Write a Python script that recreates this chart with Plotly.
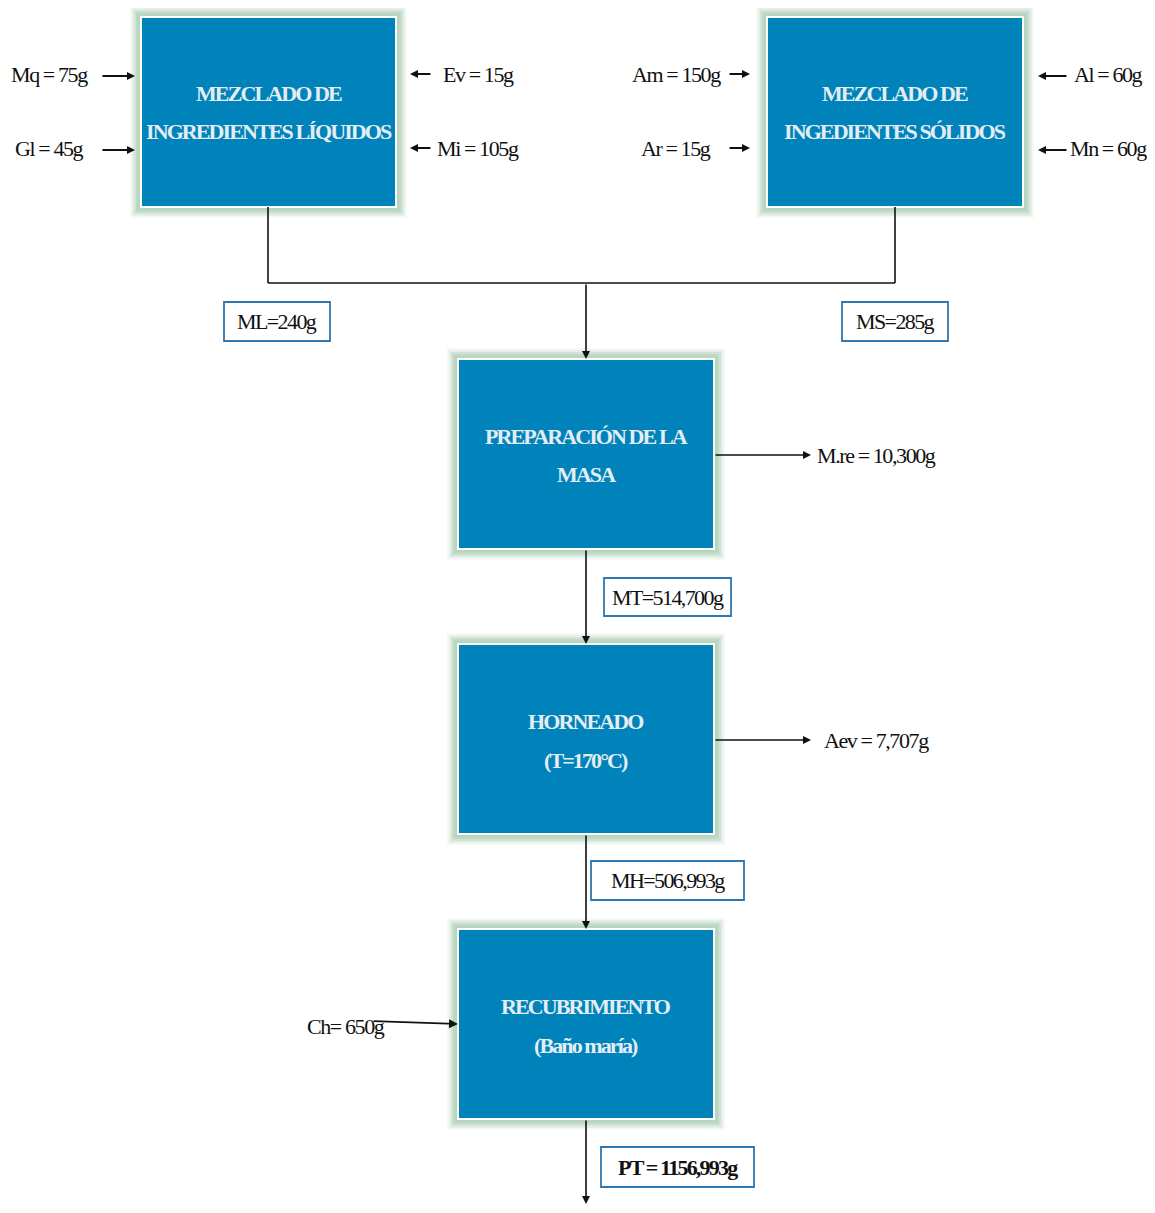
import plotly.graph_objects as go

# ---- data (text content) ----
process_lines = [
    ["MEZCLADO DE", "INGREDIENTES LÍQUIDOS"],
    ["MEZCLADO DE", "INGEDIENTES SÓLIDOS"],
    ["PREPARACIÓN DE LA", "MASA"],
    ["HORNEADO", "(T=170°C)"],
    ["RECUBRIMIENTO", "(Baño maría)"],
]
inputs_left_box1 = ["Mq = 75g", "Gl = 45g"]
inputs_right_box1 = ["Ev = 15g", "Mi = 105g"]
inputs_left_box2 = ["Am = 150g", "Ar = 15g"]
inputs_right_box2 = ["Al = 60g", "Mn = 60g"]
stream_labels = ["ML=240g", "MS=285g", "MT=514,700g", "MH=506,993g", "PT = 1156,993g"]
outputs = ["M.re = 10,300g", "Aev = 7,707g"]
coating_input = ["Ch= 650g"]

# ---- layout geometry (page pixel space; page body has 8px margin) ----
OFF = 8
W, H = 1155 - 2 * OFF, 1213 - 2 * OFF
boxes = [(141, 17, 396, 207), (767, 17, 1023, 207), (458, 359, 714, 549),
         (458, 644, 714, 834), (458, 929, 714, 1119)]
line_y = [(93, 131), (93, 131), (436, 474), (721, 760), (1006, 1045)]

BLUE = "#0083BA"
GLOW = "#b7d4bf"
TXT = "#e4edf3"
FONT = "Liberation Serif"
LBL_BORDER = "#2f77b0"

fig = go.Figure()
shapes = []
ann = []

def line(x0, y0, x1, y1, w=1.6, c="#111"):
    shapes.append(dict(type="line", x0=x0, y0=y0, x1=x1, y1=y1, xref="x", yref="y",
                       line=dict(color=c, width=w)))

def arrow(x0, y0, x1, y1, w=1.6, size=1.0):
    ann.append(dict(x=x1, y=y1, ax=x0, ay=y0, xref="x", yref="y", axref="x", ayref="y",
                    text="", showarrow=True, arrowhead=2, arrowsize=size, arrowwidth=w,
                    arrowcolor="#111", standoff=0, startstandoff=0))

def text(x, y, s, size=22, color="#111", anchor="center", bold=False, ls=-1.4):
    s = '<span style="letter-spacing:%.1fpx">%s</span>' % (ls, s)
    if bold:
        s = "<b>" + s + "</b>"
    ann.append(dict(x=x, y=y, xref="x", yref="y", text=s, showarrow=False,
                    xanchor=anchor, yanchor="middle",
                    font=dict(family=FONT, size=size, color=color)))

# process boxes with glow
for i, (x0, y0, x1, y1) in enumerate(boxes):
    for pad, op in [(11, 0.15), (9, 0.25), (7, 0.45), (5, 0.7), (3, 0.9)]:
        shapes.append(dict(type="rect", x0=x0 - pad, y0=y0 - pad, x1=x1 + pad, y1=y1 + pad,
                           xref="x", yref="y", fillcolor=GLOW, opacity=op, line=dict(width=0),
                           layer="below"))
    shapes.append(dict(type="rect", x0=x0, y0=y0, x1=x1, y1=y1, xref="x", yref="y",
                       fillcolor=BLUE, line=dict(color="white", width=2), layer="above"))
    cx = (x0 + x1) / 2
    for s, y in zip(process_lines[i], line_y[i]):
        text(cx, y, s, size=22, color=TXT, bold=True, ls=-1.9)

# connectors from top boxes
line(268, 207, 268, 283)
line(895, 207, 895, 283)
line(268, 283, 895, 283)
arrow(586, 283, 586, 359)
arrow(586, 549, 586, 644)
arrow(586, 834, 586, 929)
arrow(586, 1119, 586, 1204)

# top inputs
ys = [76, 150]
for s, y in zip(inputs_left_box1, ys):
    text(49, y - 2, s)
    arrow(101, y, 135, y, w=2, size=0.8)
for s, y in zip(inputs_right_box1, ys):
    text(478, y - 2, s)
    arrow(432, y - 2, 410, y - 2, w=2, size=0.8)
for s, y in zip(inputs_left_box2, ys):
    text(676, y - 2, s)
    arrow(728, y - 2, 750, y - 2, w=2, size=0.8)
for s, y in zip(inputs_right_box2, ys):
    text(1108, y - 2, s)
    arrow(1068, y, 1038, y, w=2, size=0.8)

# stream label boxes
lbl_boxes = [(224, 302, 330, 341), (842, 302, 948, 341), (604, 578, 731, 616),
             (591, 861, 744, 900), (601, 1147, 754, 1187)]
for k, (s, (x0, y0, x1, y1)) in enumerate(zip(stream_labels, lbl_boxes)):
    shapes.append(dict(type="rect", x0=x0, y0=y0, x1=x1, y1=y1, xref="x", yref="y",
                       fillcolor="white", line=dict(color=LBL_BORDER, width=1.8)))
    text((x0 + x1) / 2, (y0 + y1) / 2, s, bold=(k == 4), ls=(-1.8 if k == 4 else -1.6))

# outputs
arrow(714, 455, 811, 455)
text(815, 455, outputs[0], anchor="left")
arrow(714, 740, 811, 740)
text(822, 740, outputs[1], anchor="left")

# coating input
text(305, 1026, coating_input[0], anchor="left")
arrow(372, 1021, 458, 1024, w=1.8)

fig.update_layout(
    width=W, height=H, margin=dict(l=0, r=0, t=0, b=0),
    paper_bgcolor="white", plot_bgcolor="white",
    xaxis=dict(range=[OFF, OFF + W], visible=False, fixedrange=True),
    yaxis=dict(range=[OFF + H, OFF], visible=False, fixedrange=True),
    shapes=shapes, annotations=ann, showlegend=False,
)
fig.write_html("out.html")
